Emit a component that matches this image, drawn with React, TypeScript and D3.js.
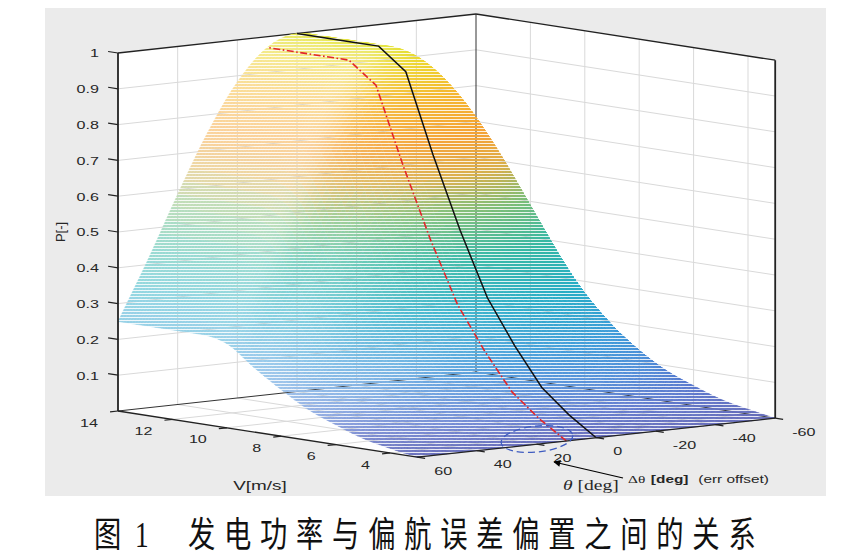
import React, { useMemo } from "react";
import * as d3 from "d3";

// ---------- data ----------
const windSpeeds = [3, 4, 5, 6, 7, 8, 9, 10, 11, 12, 13, 14];
const powerCurve = [0, 0.052, 0.117, 0.222, 0.344, 0.52, 0.72, 0.94, 1, 1, 1, 1];
const yawAngles = [-60, -50, -40, -30, -20, -10, 0, 10, 20, 30, 40, 50, 60];
const yawFactor = [0.25, 0.413, 0.587, 0.75, 0.883, 0.97, 1, 0.97, 0.883, 0.75, 0.587, 0.413, 0.25];
const alignedAngle = 0;
const offsetAngle = 10;
const pTicks = [0.1, 0.2, 0.3, 0.4, 0.5, 0.6, 0.7, 0.8, 0.9, 1];
const pTickLabels = ["0.1", "0.2", "0.3", "0.4", "0.5", "0.6", "0.7", "0.8", "0.9", "1"];
const vTicks = [4, 6, 8, 10, 12, 14];
const thetaTicks = [60, 40, 20, 0, -20, -40, -60];
const captionFig = "图";
const captionNum = "1";
const captionText = "发电功率与偏航误差偏置之间的关系";

// ---------- projection (orthographic, built from linear scales) ----------
const tX = d3.scaleLinear().domain([60, -60]).range([0, 358]);
const tY = d3.scaleLinear().domain([60, -60]).range([0, -39]);
const tZ = d3.scaleLinear().domain([60, -60]).range([0, -298]);
const vX = d3.scaleLinear().domain([14, 3]).range([0, 299.2]);
const vY = d3.scaleLinear().domain([14, 3]).range([0, 46.2]);
const vZ = d3.scaleLinear().domain([14, 3]).range([0, 353]);
const pY = d3.scaleLinear().domain([0, 1]).range([0, -358]);
const pZ = d3.scaleLinear().domain([0, 1]).range([0, 46.8]);
const OX = 118, OY = 411;
function proj(t: number, v: number, p: number): [number, number, number] {
  return [OX + tX(t) + vX(v), OY + tY(t) + vY(v) + pY(p), tZ(t) + vZ(v) + pZ(p)];
}

function monotoneInterp(xs: number[], ys: number[]) {
  const n = xs.length;
  const d: number[] = [];
  for (let i = 0; i < n - 1; i++) d.push((ys[i + 1] - ys[i]) / (xs[i + 1] - xs[i]));
  const m: number[] = new Array(n);
  m[0] = d[0];
  m[n - 1] = d[n - 2];
  for (let i = 1; i < n - 1; i++) m[i] = d[i - 1] * d[i] <= 0 ? 0 : (d[i - 1] + d[i]) / 2;
  for (let i = 0; i < n - 1; i++) {
    if (d[i] === 0) { m[i] = 0; m[i + 1] = 0; continue; }
    const a = m[i] / d[i], b = m[i + 1] / d[i];
    const s = a * a + b * b;
    if (s > 9) { const tt = 3 / Math.sqrt(s); m[i] = tt * a * d[i]; m[i + 1] = tt * b * d[i]; }
  }
  return (x: number) => {
    let i = d3.bisectRight(xs, x) - 1;
    i = Math.max(0, Math.min(n - 2, i));
    const h = xs[i + 1] - xs[i];
    const t = (x - xs[i]) / h;
    const t2 = t * t, t3 = t2 * t;
    return (2 * t3 - 3 * t2 + 1) * ys[i] + (t3 - 2 * t2 + t) * h * m[i] + (-2 * t3 + 3 * t2) * ys[i + 1] + (t3 - t2) * h * m[i + 1];
  };
}

const powerAt = monotoneInterp(windSpeeds, powerCurve);
const yawAt = monotoneInterp(yawAngles, yawFactor);

const colorScale = d3
  .scaleLinear<string>()
  .domain([0, 0.05, 0.12, 0.2, 0.32, 0.45, 0.56, 0.66, 0.75, 0.87, 0.95, 1])
  .range(["#3e46a8", "#4866c6", "#4888d6", "#3c9ad8", "#28adc6", "#38b8a2", "#7cbe78", "#dcae4a", "#f4a236", "#f4b830", "#eed42e", "#e2e232"])
  .interpolate(d3.interpolateRgb)
  .clamp(true);

const SX = 1.4;
const TXT = "#262626";
const FONT = "'Liberation Sans', Arial, sans-serif";
const SERIF = "'Liberation Serif', 'Times New Roman', serif";

export default function App() {
  const surface = useMemo(() => {
    const vs = d3.range(3, 14.0001, 0.1);
    const ts = d3.range(-60, 60.0001, 2);
    const grid = vs.map((v) => ts.map((t) => {
      const p = powerAt(v) * yawAt(t);
      return { s: proj(t, v, p), p };
    }));
    const L = [-0.5, 0.55, 0.68];
    const Ln = Math.hypot(L[0], L[1], L[2]);
    const quads: { d: string; z: number; c: string }[] = [];
    for (let i = 0; i < vs.length - 1; i++) {
      for (let j = 0; j < ts.length - 1; j++) {
        const a = grid[i][j], b = grid[i + 1][j], c = grid[i + 1][j + 1], e = grid[i][j + 1];
        const A = [c.s[0] - a.s[0], -(c.s[1] - a.s[1]), c.s[2] - a.s[2]];
        const B = [e.s[0] - b.s[0], -(e.s[1] - b.s[1]), e.s[2] - b.s[2]];
        const n = [A[1] * B[2] - A[2] * B[1], A[2] * B[0] - A[0] * B[2], A[0] * B[1] - A[1] * B[0]];
        const nn = Math.hypot(n[0], n[1], n[2]) || 1;
        const dot = (n[0] * L[0] + n[1] * L[1] + n[2] * L[2]) / (nn * Ln);
        const pm = (a.p + b.p + c.p + e.p) / 4;
        let w = 0.52 * Math.pow(Math.max(0, dot), 3);
        if (pm < 0.16) w += 0.08 * (1 - pm / 0.16);
        const col = d3.interpolateRgb(colorScale(pm), "#ffffff")(Math.min(0.7, w));
        const z = (a.s[2] + b.s[2] + c.s[2] + e.s[2]) / 4;
        const dstr = `M${a.s[0].toFixed(2)},${a.s[1].toFixed(2)}L${b.s[0].toFixed(2)},${b.s[1].toFixed(2)}L${c.s[0].toFixed(2)},${c.s[1].toFixed(2)}L${e.s[0].toFixed(2)},${e.s[1].toFixed(2)}Z`;
        quads.push({ d: dstr, z, c: col });
      }
    }
    quads.sort((q1, q2) => q1.z - q2.z);
    return quads;
  }, []);

  const line2 = d3.line<[number, number, number]>().x((d) => d[0]).y((d) => d[1]);
  const yawData = (ang: number) => yawFactor[yawAngles.indexOf(ang)];
  const blackPts = windSpeeds.map((v, i) => proj(alignedAngle, v, powerCurve[i] * yawData(alignedAngle)));
  const redPts = windSpeeds.map((v, i) => proj(offsetAngle, v, powerCurve[i] * yawData(offsetAngle)));

  const seg = (p1: number[], p2: number[], stroke: string, sw: number, key: string) => (
    <line key={key} x1={p1[0]} y1={p1[1]} x2={p2[0]} y2={p2[1]} stroke={stroke} strokeWidth={sw} />
  );
  const poly = (pts: number[][]) => pts.map((p) => `${p[0]},${p[1]}`).join(" ");

  const GRID = "#d9d9d9";
  const gridLines: any[] = [];
  const innerP = pTicks.filter((p) => p < 1);
  innerP.forEach((p) => {
    gridLines.push(seg(proj(60, 14, p), proj(-60, 14, p), GRID, 1, `lwp${p}`));
    gridLines.push(seg(proj(-60, 14, p), proj(-60, 3, p), GRID, 1, `rwp${p}`));
  });
  thetaTicks.filter((t) => t !== 60 && t !== -60).forEach((t) => {
    gridLines.push(seg(proj(t, 14, 0), proj(t, 14, 1), GRID, 1, `lwt${t}`));
    gridLines.push(seg(proj(t, 14, 0), proj(t, 3, 0), GRID, 1, `flt${t}`));
  });
  vTicks.filter((v) => v !== 14).forEach((v) => {
    gridLines.push(seg(proj(-60, v, 0), proj(-60, v, 1), GRID, 1, `rwv${v}`));
    gridLines.push(seg(proj(60, v, 0), proj(-60, v, 0), GRID, 1, `flv${v}`));
  });

  const EDGE = "#222";
  const dirV = [-0.988, -0.153];
  const dirT = [-0.994, 0.108];
  const dirTh = [0.988, 0.153];

  return (
    <svg width={864} height={558} style={{ position: "absolute", left: 0, top: 0, display: "block", background: "#fff" }}>
      <defs>
        <pattern id="stripePat" patternUnits="userSpaceOnUse" x={0} y={0} width={864} height={3}>
          <rect x={0} y={0} width={864} height={2} fill="#ffffff" />
          <rect x={0} y={2} width={864} height={1} fill="#2a2a2a" />
        </pattern>
        <mask id="stripeMask" maskUnits="userSpaceOnUse" x={0} y={0} width={864} height={558}>
          <rect x={0} y={0} width={864} height={558} fill="url(#stripePat)" />
        </mask>
        <marker id="arrowHead" viewBox="0 0 10 10" refX={9} refY={5} markerWidth={9} markerHeight={7} orient="auto" markerUnits="userSpaceOnUse">
          <path d="M0,0L10,5L0,10Z" fill="#000" />
        </marker>
      </defs>
      <rect x={45} y={8} width={781} height={488} fill="#ebebeb" />
      {/* back walls and floor */}
      <polygon points={poly([proj(60, 14, 0), proj(-60, 14, 0), proj(-60, 14, 1), proj(60, 14, 1)])} fill="#fff" />
      <polygon points={poly([proj(-60, 14, 0), proj(-60, 3, 0), proj(-60, 3, 1), proj(-60, 14, 1)])} fill="#fff" />
      <polygon points={poly([proj(60, 14, 0), proj(60, 3, 0), proj(-60, 3, 0), proj(-60, 14, 0)])} fill="#fff" />
      {gridLines}
      {seg(proj(-60, 14, 0), proj(-60, 14, 1), "#333", 1, "backv")}
      {seg(proj(60, 14, 0), proj(-60, 14, 0), "#333", 1, "backb1")}
      {seg(proj(-60, 14, 0), proj(-60, 3, 0), "#333", 1, "backb2")}
      {seg(proj(60, 14, 1), proj(-60, 14, 1), EDGE, 1.3, "top1")}
      {seg(proj(-60, 14, 1), proj(-60, 3, 1), EDGE, 1.3, "top2")}
      {/* surface */}
      <g mask="url(#stripeMask)">
        {surface.map((q, k) => (
          <path key={k} d={q.d} fill={q.c} stroke={q.c} strokeWidth={0.5} />
        ))}
      </g>
      {/* curves on the surface */}
      <path d={line2(redPts) || ""} fill="none" stroke="#e2262a" strokeWidth={1.6} strokeDasharray="7,2.5,1.6,2.5" />
      <path d={line2(blackPts) || ""} fill="none" stroke="#111" strokeWidth={1.5} />
      {/* frame edges */}
      {seg(proj(60, 14, 0), proj(60, 14, 1), EDGE, 1.8, "lv")}
      {seg(proj(-60, 3, 0), proj(-60, 3, 1), EDGE, 1.8, "rv")}
      {seg(proj(60, 14, 0), proj(60, 3, 0), EDGE, 1.3, "vax")}
      {seg(proj(60, 3, 0), proj(-60, 3, 0), EDGE, 1.3, "tax")}
      {/* ticks */}
      {pTicks.map((p) => {
        const a = proj(60, 14, p);
        return seg(a, [a[0] + dirV[0] * 10, a[1] + dirV[1] * 10], EDGE, 1.2, `pt${p}`);
      })}
      {vTicks.map((v) => {
        const a = proj(60, v, 0);
        return seg(a, [a[0] + dirT[0] * 8, a[1] + dirT[1] * 8], EDGE, 1.2, `vt${v}`);
      })}
      {thetaTicks.map((t) => {
        const a = proj(t, 3, 0);
        return seg(a, [a[0] + dirTh[0] * 8, a[1] + dirTh[1] * 8], EDGE, 1.2, `tt${t}`);
      })}
      {/* tick labels */}
      {pTicks.map((p, i) => {
        const a = proj(60, 14, p);
        return (
          <text key={`pl${p}`} transform={`translate(99,${a[1] + 4.3}) scale(${SX},1)`} textAnchor="end" fontFamily={FONT} fontSize={11.5} fill={TXT}>
            {pTickLabels[i]}
          </text>
        );
      })}
      {vTicks.map((v) => {
        const a = proj(60, v, 0);
        return (
          <text key={`vl${v}`} transform={`translate(${a[0] - 20},${a[1] + 15.5}) scale(${SX},1)`} textAnchor="end" fontFamily={FONT} fontSize={11.5} fill={TXT}>
            {v}
          </text>
        );
      })}
      {thetaTicks.map((t) => {
        const a = proj(t, 3, 0);
        return (
          <text key={`tl${t}`} transform={`translate(${a[0] + 17},${a[1] + 17.5}) scale(${SX},1)`} textAnchor="start" fontFamily={FONT} fontSize={11.5} fill={TXT}>
            {t}
          </text>
        );
      })}
      {/* axis labels */}
      <text transform="translate(65,232) rotate(-90)" textAnchor="middle" fontFamily={FONT} fontSize={13} fill={TXT}>P[-]</text>
      <text transform={`translate(260,490) scale(${SX},1)`} textAnchor="middle" fontFamily={FONT} fontSize={13.5} fill={TXT}>V[m/s]</text>
      <text transform={`translate(563,490) scale(${SX},1)`} fontFamily={SERIF} fontSize={14} fill={TXT}>
        <tspan fontStyle="italic">θ</tspan> [deg]
      </text>
      {/* annotation */}
      <ellipse cx={537} cy={439} rx={36} ry={13} transform="rotate(-6,537,439)" fill="none" stroke="#3f5cc0" strokeWidth={1.3} strokeDasharray="7,4" />
      <line x1={623} y1={478} x2={554} y2={462} stroke="#000" strokeWidth={1.2} markerEnd="url(#arrowHead)" />
      <text transform={`translate(628,483) scale(${SX},1)`} fontSize={11} fill={TXT}>
        <tspan fontFamily={SERIF}>Δθ</tspan>
        <tspan dx={4} fontFamily={FONT} fontWeight="bold">[deg]</tspan>
        <tspan dx={7} fontFamily={FONT}>(err offset)</tspan>
      </text>
      {/* caption */}
      <text transform="translate(94,547) scale(0.78,1)" fontFamily="'Noto Sans CJK SC', sans-serif" fontSize={35} fill="#111">{captionFig}</text>
      <text transform="translate(135,547) scale(0.78,1)" fontFamily={SERIF} fontSize={35} fill="#111">{captionNum}</text>
      <text transform="translate(188,547) scale(0.78,1)" fontFamily="'Noto Sans CJK SC', sans-serif" fontSize={35} letterSpacing={11.2} fill="#111">{captionText}</text>
    </svg>
  );
}
